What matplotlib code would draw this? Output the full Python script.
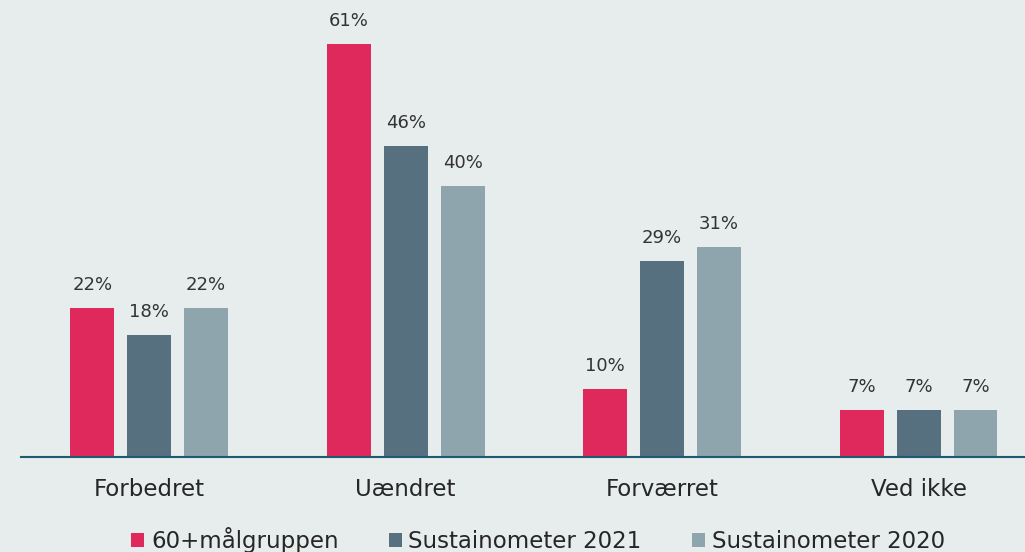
import matplotlib.pyplot as plt
import numpy as np

categories = ["Forbedret", "Uændret", "Forværret", "Ved ikke"]
series_names = ["60+målgruppen", "Sustainometer 2021", "Sustainometer 2020"]
maalgruppen = [22, 61, 10, 7]
sustain_2021 = [18, 46, 29, 7]
sustain_2020 = [22, 40, 31, 7]
colors = ["#DF295D", "#56707F", "#8EA5AD"]
bg = "#E7ECEC"

fig = plt.figure(figsize=(10.25, 5.52), dpi=100, facecolor=bg)
# axes placed in pixel terms: baseline at y=457, left edge at x=21
ax = fig.add_axes([21 / 1025, 95 / 552, 1 - 21 / 1025, 457 / 552])
ax.set_facecolor(bg)

x = np.arange(len(categories))
width = 0.1715
step = 0.222
for i, (vals, name) in enumerate(zip([maalgruppen, sustain_2021, sustain_2020], series_names)):
    pos = x + (i - 1) * step
    bars = ax.bar(pos, vals, width, color=colors[i], label=name)
    for b, v in zip(bars, vals):
        ax.annotate("%d%%" % v, (b.get_x() + b.get_width() / 2, v),
                    xytext=(0, 10), textcoords="offset points",
                    ha="center", va="bottom", fontsize=13, color="#333333")

ax.set_xlim(-0.5, 3.415)
ax.set_ylim(0, 67.5)
ax.set_xticks(x)
ax.set_xticklabels(categories, fontsize=16.5, color="#262626")
ax.tick_params(axis="x", length=0, pad=15)
ax.set_yticks([])
for s in ["top", "right", "left"]:
    ax.spines[s].set_visible(False)
ax.spines["bottom"].set_color("#1F5A6E")
ax.spines["bottom"].set_linewidth(1.5)

fig.legend(loc="lower center", bbox_to_anchor=(0.525, -0.04), ncol=3, frameon=False,
           fontsize=16.5, handlelength=0.55, handleheight=0.55, handletextpad=0.3,
           columnspacing=2.2, labelcolor="#262626")

fig.savefig("out.png", dpi=100, facecolor=bg)
